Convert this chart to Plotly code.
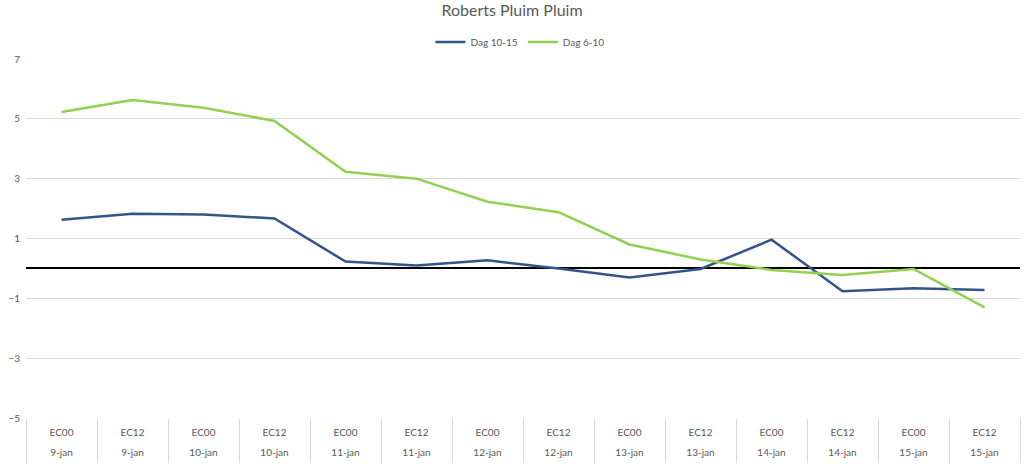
import plotly.graph_objects as go

# Data
runs = ["EC00", "EC12"] * 7
dates = [
    "9-jan", "9-jan", "10-jan", "10-jan", "11-jan", "11-jan", "12-jan",
    "12-jan", "13-jan", "13-jan", "14-jan", "14-jan", "15-jan", "15-jan"
]
dag_10_15 = [1.63, 1.83, 1.8, 1.67, 0.23, 0.1, 0.27, 0.0, -0.3, -0.02, 0.96, -0.76, -0.66, -0.72]
dag_6_10 = [5.23, 5.63, 5.37, 4.93, 3.23, 3.0, 2.23, 1.88, 0.8, 0.3, -0.05, -0.22, -0.02, -1.3]

# unique category per point (run + date)
cats = [f"{r} {d}" for r, d in zip(runs, dates)]

grey = "#595959"
font = "Lato, Open Sans, sans-serif"

fig = go.Figure()

fig.add_trace(go.Scatter(
    x=cats, y=dag_10_15, name="Dag 10-15", mode="lines",
    line=dict(color="#33548a", width=2.5),
    xaxis="x"
))

fig.add_trace(go.Scatter(
    x=cats, y=dag_6_10, name="Dag 6-10", mode="lines",
    line=dict(color="#92d050", width=2.5),
    xaxis="x2"
))

fig.update_layout(
    width=1024,
    height=475,
    template="plotly_white",
    plot_bgcolor="white",
    paper_bgcolor="white",
    font=dict(family=font, size=10, color=grey),
    title=dict(
        text="Roberts Pluim Pluim",
        x=0.5, xanchor="center",
        y=1 - 10 / 475, yanchor="middle",
        font=dict(size=16, color=grey),
        automargin=False
    ),
    legend=dict(
        orientation="h",
        x=0.497, xanchor="center",
        yref="container",
        y=1 - 42 / 475, yanchor="middle",
        font=dict(size=10, color=grey),
        itemwidth=30
    ),
    margin=dict(l=26, r=4, t=59, b=57, autoexpand=False),
    # top row of labels: model run
    xaxis=dict(
        type="category",
        categoryorder="array", categoryarray=cats,
        range=[-0.5, len(cats) - 0.5],
        tickvals=cats, ticktext=runs,
        tickson="boundaries",
        ticks="outside", ticklen=44, tickcolor="#d9d9d9", tickwidth=1,
        ticklabelstandoff=7,
        showgrid=False, showline=False, zeroline=False,
        automargin=False,
        tickfont=dict(size=10, color=grey)
    ),
    # bottom row of labels: date
    xaxis2=dict(
        type="category",
        overlaying="x", matches="x", side="bottom",
        categoryorder="array", categoryarray=cats,
        tickvals=cats, ticktext=dates,
        ticks="outside", ticklen=44, tickcolor="rgba(0,0,0,0)",
        ticklabelstandoff=-19,
        showgrid=False, showline=False, zeroline=False,
        automargin=False,
        tickfont=dict(size=10, color=grey)
    ),
    yaxis=dict(
        range=[-5, 7], tick0=-5, dtick=2,
        gridcolor="#d9d9d9", gridwidth=1,
        zeroline=True, zerolinecolor="black", zerolinewidth=2,
        showline=False, automargin=False,
        ticklabelstandoff=5,
        tickfont=dict(size=10, color=grey)
    )
)

# drop the browser's default page margin so the figure sits at the top-left
fig.write_html(
    "out.html",
    config={"displayModeBar": False},
    post_script="document.body.style.margin='0';"
)
